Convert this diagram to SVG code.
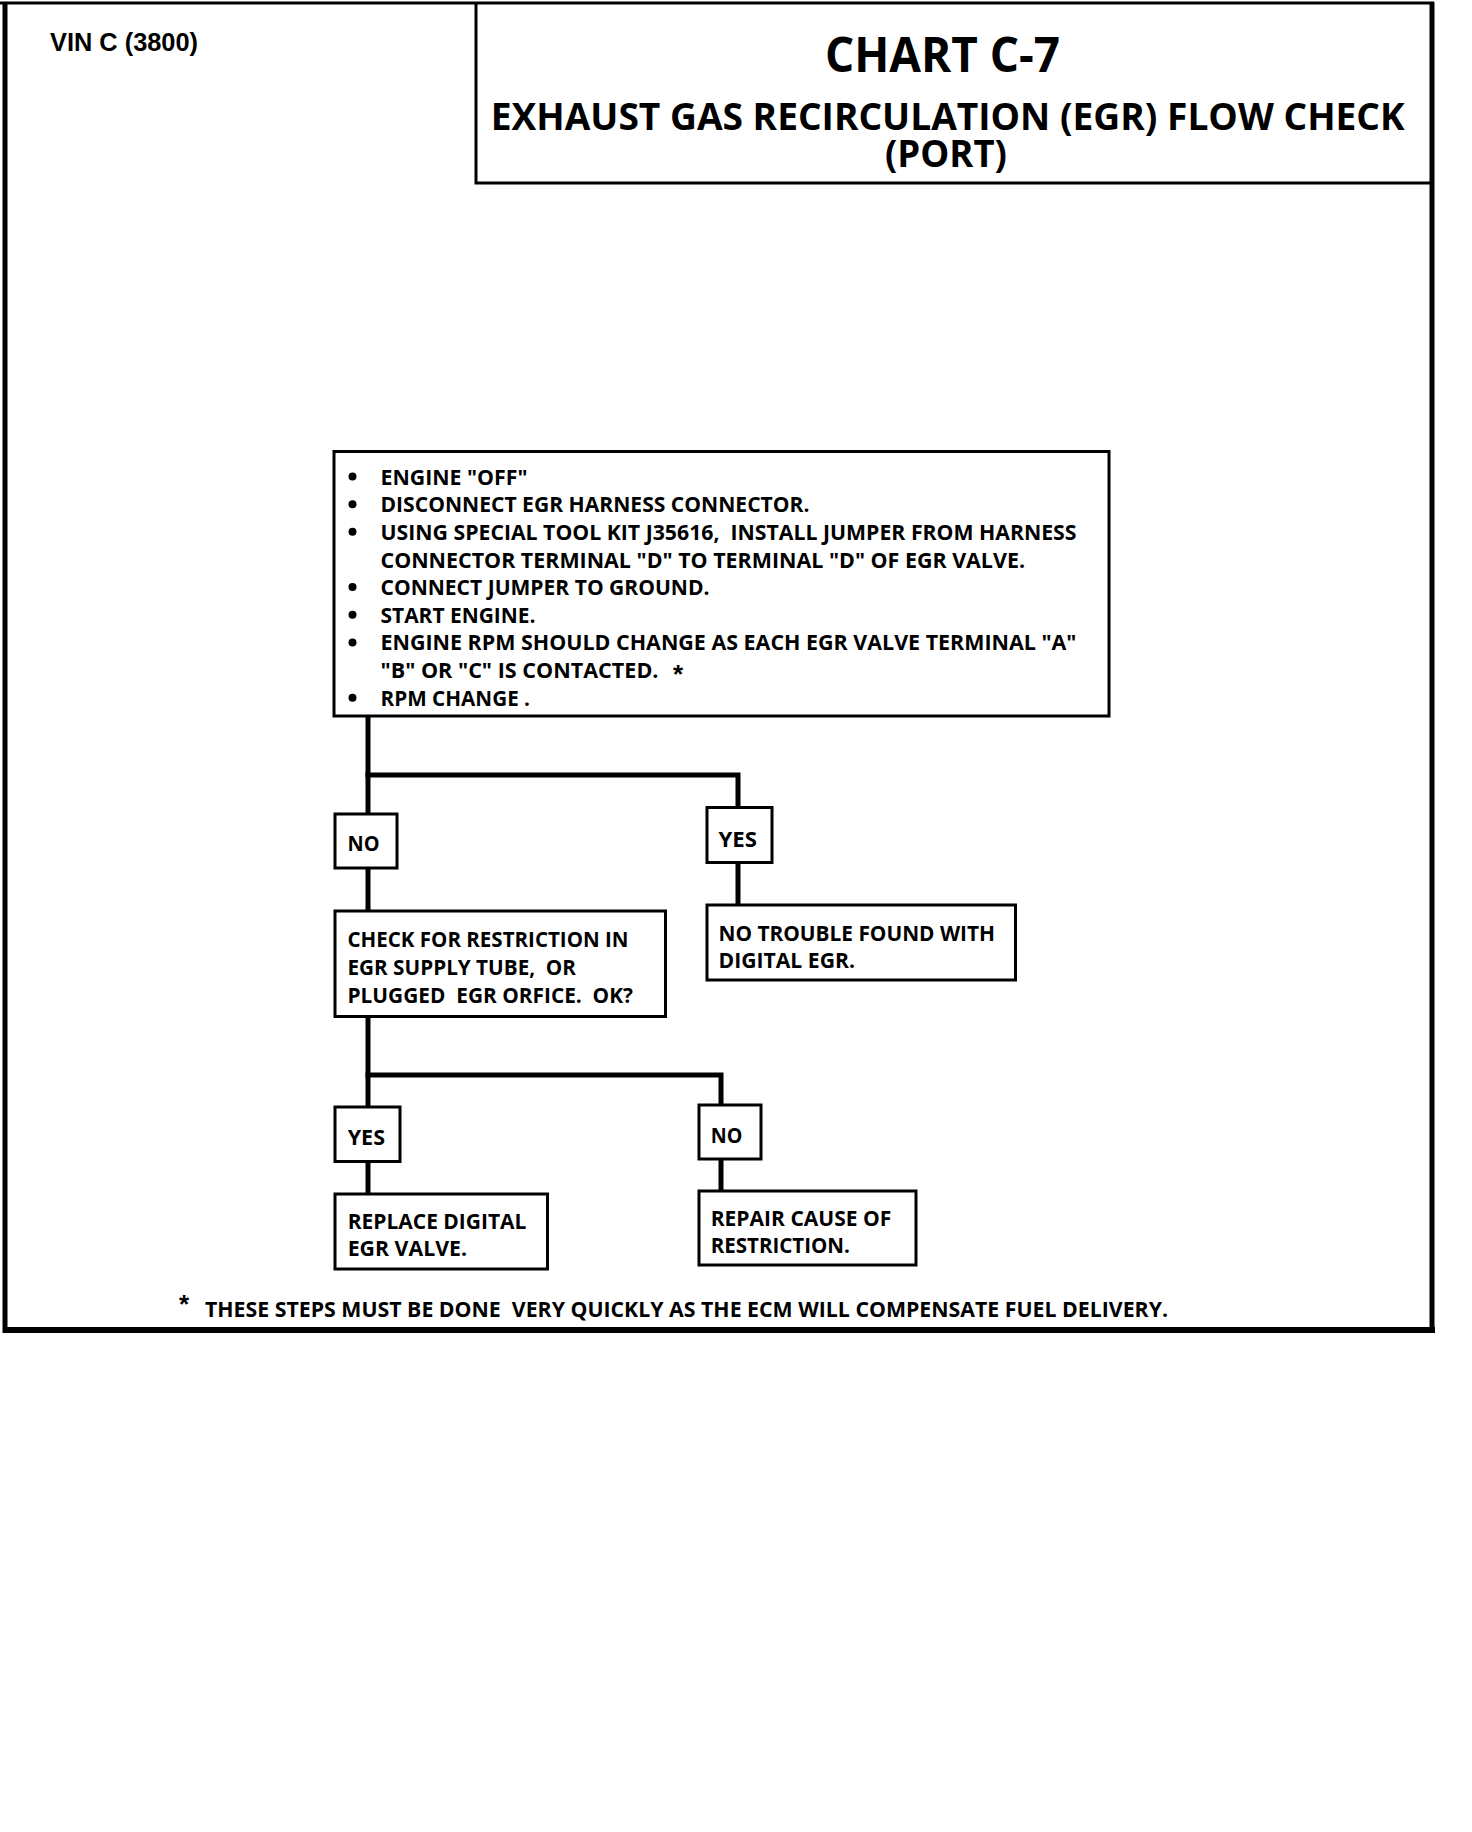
<svg xmlns="http://www.w3.org/2000/svg" width="1472" height="1832" viewBox="0 0 1472 1832">
<style>
.box{fill:#fff;stroke:#000;stroke-width:3}
.conn{stroke:#000;stroke-width:5;fill:none;stroke-linecap:square}
.frame{stroke:#000;fill:none}
.t{font-family:"Open Sans","Liberation Sans",sans-serif;font-weight:700;font-size:21px;fill:#000;white-space:pre}
.ttl{font-family:"Open Sans","Liberation Sans",sans-serif;font-weight:700;fill:#000}
.vin{font-family:"Liberation Sans",Arial,sans-serif;font-weight:700;font-size:26px;fill:#000}
.bul{fill:#000}
</style>
<rect width="1472" height="1832" fill="#fff"/>
<g id="frame">
<line class="frame" x1="0" y1="3" x2="1434" y2="3" stroke-width="3" stroke="#222"/>
<line class="frame" x1="5" y1="2" x2="5" y2="1333" stroke-width="5"/>
<line class="frame" x1="1432" y1="2" x2="1432" y2="1333" stroke-width="5"/>
<line class="frame" x1="3" y1="1330" x2="1435" y2="1330" stroke-width="6"/>
<polyline class="frame" points="476,3 476,183 1432,183" stroke-width="3"/>
</g>
<g id="header">
<text class="vin" x="50" y="50.7" textLength="148" lengthAdjust="spacingAndGlyphs">VIN C (3800)</text>
<text class="ttl" x="825" y="71.7" font-size="48" textLength="235" lengthAdjust="spacingAndGlyphs">CHART C-7</text>
<text class="ttl" x="490.7" y="130" font-size="38" textLength="914" lengthAdjust="spacingAndGlyphs">EXHAUST GAS RECIRCULATION (EGR) FLOW CHECK</text>
<text class="ttl" x="885" y="166.7" font-size="38" textLength="122" lengthAdjust="spacingAndGlyphs">(PORT)</text>
</g>
<g id="connectors">
<polyline class="conn" points="368,716 368,814"/>
<polyline class="conn" points="368,775 738,775 738,807"/>
<polyline class="conn" points="368,868 368,911"/>
<polyline class="conn" points="738,862 738,905"/>
<polyline class="conn" points="368,1016 368,1107"/>
<polyline class="conn" points="368,1075 721,1075 721,1105"/>
<polyline class="conn" points="368,1161 368,1194"/>
<polyline class="conn" points="721,1159 721,1191"/>
</g>
<g id="n_start">
<rect class="box" x="334" y="451.5" width="775" height="264.5"/>
<circle class="bul" cx="352.5" cy="476.5" r="4"/>
<circle class="bul" cx="352.5" cy="504.2" r="4"/>
<circle class="bul" cx="352.5" cy="531.8" r="4"/>
<circle class="bul" cx="352.5" cy="587.1" r="4"/>
<circle class="bul" cx="352.5" cy="614.8" r="4"/>
<circle class="bul" cx="352.5" cy="642.4" r="4"/>
<circle class="bul" cx="352.5" cy="697.7" r="4"/>
<text class="t" x="380.5" y="484.5" textLength="147" lengthAdjust="spacingAndGlyphs">ENGINE "OFF"</text>
<text class="t" x="380.5" y="512.2" textLength="429" lengthAdjust="spacingAndGlyphs">DISCONNECT EGR HARNESS CONNECTOR.</text>
<text class="t" x="380.5" y="539.8" textLength="696" lengthAdjust="spacingAndGlyphs">USING SPECIAL TOOL KIT J35616,  INSTALL JUMPER FROM HARNESS</text>
<text class="t" x="380.5" y="567.5" textLength="644.5" lengthAdjust="spacingAndGlyphs">CONNECTOR TERMINAL "D" TO TERMINAL "D" OF EGR VALVE.</text>
<text class="t" x="380.5" y="595.1" textLength="329" lengthAdjust="spacingAndGlyphs">CONNECT JUMPER TO GROUND.</text>
<text class="t" x="380.5" y="622.8" textLength="155" lengthAdjust="spacingAndGlyphs">START ENGINE.</text>
<text class="t" x="380.5" y="650.4" textLength="696" lengthAdjust="spacingAndGlyphs">ENGINE RPM SHOULD CHANGE AS EACH EGR VALVE TERMINAL "A"</text>
<text class="t" x="380.5" y="678.1" textLength="278" lengthAdjust="spacingAndGlyphs">"B" OR "C" IS CONTACTED.</text>
<text class="vin" x="673" y="683" font-size="24">*</text>
<text class="t" x="380.5" y="705.7" textLength="149.5" lengthAdjust="spacingAndGlyphs">RPM CHANGE .</text>
</g>
<g id="n_no1">
<rect class="box" x="335" y="814" width="62" height="54"/>
<text class="t" x="347.5" y="851" textLength="32" lengthAdjust="spacingAndGlyphs">NO</text>
</g>
<g id="n_yes1">
<rect class="box" x="707" y="807.5" width="65" height="55"/>
<text class="t" x="718.5" y="847" textLength="38.5" lengthAdjust="spacingAndGlyphs">YES</text>
</g>
<g id="n_check">
<rect class="box" x="335" y="911" width="330.5" height="105.5"/>
<text class="t" x="347.5" y="947" textLength="281" lengthAdjust="spacingAndGlyphs">CHECK FOR RESTRICTION IN</text>
<text class="t" x="347.5" y="975" textLength="228.5" lengthAdjust="spacingAndGlyphs">EGR SUPPLY TUBE,  OR</text>
<text class="t" x="347.5" y="1003" textLength="285.5" lengthAdjust="spacingAndGlyphs">PLUGGED  EGR ORFICE.  OK?</text>
</g>
<g id="n_notrouble">
<rect class="box" x="707" y="905" width="308.5" height="75"/>
<text class="t" x="718.5" y="941" textLength="276.5" lengthAdjust="spacingAndGlyphs">NO TROUBLE FOUND WITH</text>
<text class="t" x="718.5" y="968" textLength="136.5" lengthAdjust="spacingAndGlyphs">DIGITAL EGR.</text>
</g>
<g id="n_yes2">
<rect class="box" x="335" y="1107" width="65" height="54.5"/>
<text class="t" x="347.7" y="1145" textLength="37.3" lengthAdjust="spacingAndGlyphs">YES</text>
</g>
<g id="n_no2">
<rect class="box" x="699" y="1105" width="62" height="54"/>
<text class="t" x="710.7" y="1143" textLength="31.6" lengthAdjust="spacingAndGlyphs">NO</text>
</g>
<g id="n_replace">
<rect class="box" x="335" y="1194" width="212.5" height="75"/>
<text class="t" x="347.7" y="1229" textLength="178.7" lengthAdjust="spacingAndGlyphs">REPLACE DIGITAL</text>
<text class="t" x="347.7" y="1256" textLength="119.3" lengthAdjust="spacingAndGlyphs">EGR VALVE.</text>
</g>
<g id="n_repair">
<rect class="box" x="699" y="1191" width="217" height="74"/>
<text class="t" x="710.7" y="1226" textLength="180.7" lengthAdjust="spacingAndGlyphs">REPAIR CAUSE OF</text>
<text class="t" x="710.7" y="1253" textLength="139.2" lengthAdjust="spacingAndGlyphs">RESTRICTION.</text>
</g>
<g id="footnote">
<text class="vin" x="179" y="1313" font-size="28">*</text>
<text class="t" x="205" y="1316.7" textLength="963" lengthAdjust="spacingAndGlyphs">THESE STEPS MUST BE DONE  VERY QUICKLY AS THE ECM WILL COMPENSATE FUEL DELIVERY.</text>
</g>
</svg>
